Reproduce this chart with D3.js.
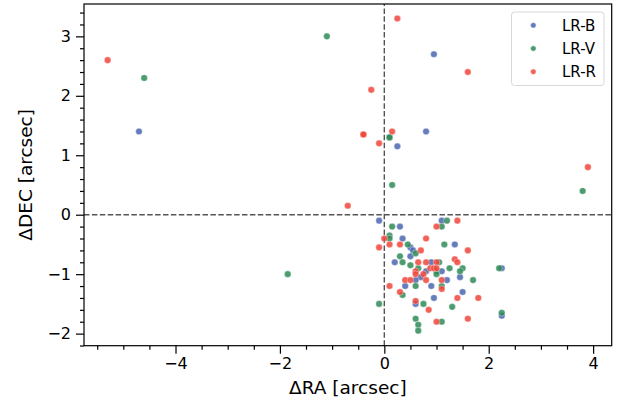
<!DOCTYPE html>
<html><head><meta charset="utf-8">
<script src="https://cdn.jsdelivr.net/npm/d3@7"></script>
<style>
body{margin:0;background:#fff;}
svg{display:block;font-family:"DejaVu Sans",sans-serif;}
</style></head>
<body><svg id="c" width="624" height="405"></svg>
<script>
const seriesNames = ["LR-B","LR-V","LR-R"];
const seriesColors = ["#4a66b0","#2e8b57","#f0453a"];
const raB  = [-4.7,0.95,0.8,0.25,-0.1,1.1,0.3,0.35,1.35,0.5,0.55,0.5,0.2,0.9,1.1,0.8,0.7,0.6,1.2,1.45,0.4,0.9,1.5,0.95,0.6,2.25,2.25];
const decB = [1.4,2.7,1.4,1.15,-0.1,-0.1,-0.2,-0.4,-0.5,-0.55,-0.6,-0.7,-0.8,-0.8,-0.95,-0.95,-1.05,-1.1,-1.1,-1.05,-1.2,-1.2,-1.3,-1.4,-1.5,-0.9,-1.7];
const raV  = [-4.6,-1.1,0.1,0.1,3.8,0.15,-1.85,-0.1,1.2,0.15,1.1,0.1,0.1,0.45,0.6,1.15,0.3,0.35,1.05,0.5,0.65,1.25,1.5,1.45,1.0,1.0,1.7,0.6,1.1,0.35,0.75,1.3,0.6,0.65,0.65,1.1,2.2,2.25];
const decV = [2.3,3.0,1.3,1.3,0.4,0.5,-1.0,-1.5,-0.1,-0.2,-0.2,-0.35,-0.4,-0.5,-0.65,-0.5,-0.7,-0.8,-0.8,-0.85,-0.9,-0.9,-0.9,-0.95,-0.95,-1.0,-1.1,-1.2,-1.2,-1.35,-1.5,-1.55,-1.75,-1.85,-1.95,-1.8,-0.9,-1.65];
const raR  = [-5.3,0.25,1.6,-0.25,0.15,-0.4,-0.4,-0.1,3.9,-0.7,1.4,1.0,0.0,0.8,-0.1,0.1,0.3,0.7,1.6,1.35,1.4,0.65,0.8,1.0,0.88,0.95,1.0,0.75,0.6,0.6,0.4,0.5,0.8,1.1,1.1,0.1,0.3,1.4,1.8,0.6,0.85,1.0,1.6];
const decR = [2.6,3.3,2.4,2.1,1.4,1.35,1.35,1.2,0.8,0.15,-0.1,-0.2,-0.4,-0.4,-0.55,-0.5,-0.5,-0.6,-0.6,-0.75,-0.8,-0.8,-0.8,-0.8,-0.9,-0.9,-0.9,-1.0,-0.95,-1.0,-1.1,-1.1,-1.1,-1.1,-1.25,-1.2,-1.3,-1.4,-1.4,-1.45,-1.6,-1.8,-1.75];
const xMajor = [-4,-2,0,2,4];
const yMajor = [-2,-1,0,1,2,3];
const xLabel = "ΔRA [arcsec]";
const yLabel = "ΔDEC [arcsec]";

const seriesRA = [raB, raV, raR];
const seriesDEC = [decB, decV, decR];

const W = 624, H = 405;
const m = {left:84, top:4, right:12.3, bottom:59.3};
const svg = d3.select("#c");
const x = d3.scaleLinear().domain([-5.753, 4.356]).range([m.left, W - m.right]);
const y = d3.scaleLinear().domain([-2.203, 3.544]).range([H - m.bottom, m.top]);

const xMinor = d3.range(-5.5, 4.3, 0.5).filter(v => !xMajor.some(t => Math.abs(t - v) < 1e-9));
const yMinor = d3.range(-2.2, 3.55, 0.2).map(v => Math.round(v*10)/10).filter(v => !yMajor.some(t => Math.abs(t - v) < 1e-9));

// zero lines
const g = svg.append("g");
g.append("line").attr("x1", x(0)).attr("x2", x(0)).attr("y1", y.range()[0]).attr("y2", y.range()[1])
  .attr("stroke","#555").attr("stroke-width",1.4).attr("stroke-dasharray","5.5,2.4");
g.append("line").attr("x1", x.range()[0]).attr("x2", x.range()[1]).attr("y1", y(0)).attr("y2", y(0))
  .attr("stroke","#555").attr("stroke-width",1.4).attr("stroke-dasharray","5.5,2.4");

// points
seriesNames.forEach((name, i) => {
  const pts = seriesRA[i].map((v, k) => [v, seriesDEC[i][k]]);
  svg.append("g").selectAll("circle").data(pts).join("circle")
    .attr("cx", d => x(d[0])).attr("cy", d => y(d[1])).attr("r", 3.3)
    .attr("fill", seriesColors[i]).attr("fill-opacity", 0.85)
    .attr("stroke", "#fff").attr("stroke-width", 0.6).attr("stroke-opacity", 0.6);
});

// axes
const fs = 16;
const xAxis = svg.append("g").attr("transform", `translate(0,${H - m.bottom})`)
  .call(d3.axisBottom(x).tickValues(xMajor).tickSize(8).tickPadding(4).tickFormat(d3.format("d")));
const xAxisMinor = svg.append("g").attr("transform", `translate(0,${H - m.bottom})`)
  .call(d3.axisBottom(x).tickValues(xMinor).tickSize(4).tickFormat(""));
const yAxis = svg.append("g").attr("transform", `translate(${m.left},0)`)
  .call(d3.axisLeft(y).tickValues(yMajor).tickSize(8).tickPadding(5).tickFormat(d3.format("d")));
const yAxisMinor = svg.append("g").attr("transform", `translate(${m.left},0)`)
  .call(d3.axisLeft(y).tickValues(yMinor).tickSize(4).tickFormat(""));
[xAxis, xAxisMinor, yAxis, yAxisMinor].forEach(a => {
  a.select(".domain").remove();
  a.selectAll("line").attr("stroke","#000").attr("stroke-width",1.2);
  a.selectAll("text").attr("font-size", fs).attr("font-family","DejaVu Sans").attr("fill","#000");
});

// frame
svg.append("rect").attr("x", x.range()[0]).attr("y", y.range()[1])
  .attr("width", x.range()[1] - x.range()[0]).attr("height", y.range()[0] - y.range()[1])
  .attr("fill","none").attr("stroke","#000").attr("stroke-width",1.2);

// axis labels
svg.append("text").attr("x", (x.range()[0] + x.range()[1]) / 2).attr("y", 394)
  .attr("text-anchor","middle").attr("font-size", 18.5).text(xLabel);
svg.append("text").attr("transform", `translate(32,${(y.range()[0] + y.range()[1]) / 2}) rotate(-90)`)
  .attr("text-anchor","middle").attr("font-size", 18.5).text(yLabel);

// legend
const lg = svg.append("g");
lg.append("rect").attr("x", 511.5).attr("y", 12).attr("width", 92.5).attr("height", 73.5)
  .attr("rx", 3).attr("fill","#fff").attr("fill-opacity",0.8).attr("stroke","#d8d8d8").attr("stroke-width",1);
seriesNames.forEach((name, i) => {
  const cy = 25.3 + i * 23.2;
  lg.append("circle").attr("cx", 533.3).attr("cy", cy).attr("r", 2.8)
    .attr("fill", seriesColors[i]).attr("fill-opacity",0.85).attr("stroke","#fff").attr("stroke-width",0.5);
  lg.append("text").attr("x", 562).attr("y", cy).attr("dy","0.36em")
    .attr("font-size", 15).text(name);
});
</script></body></html>
